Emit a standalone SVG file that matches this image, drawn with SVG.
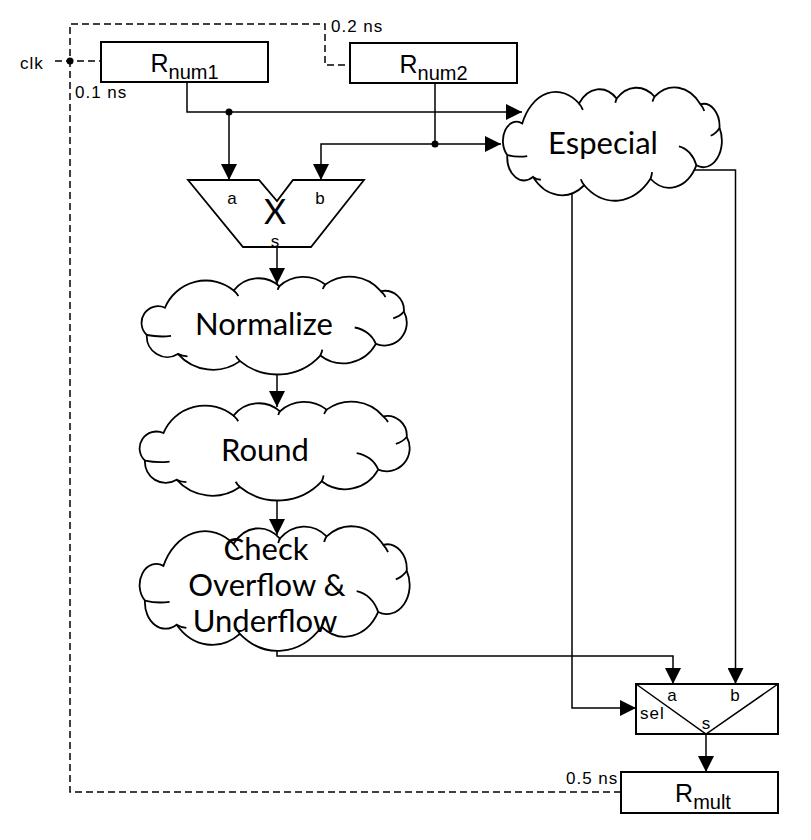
<svg xmlns="http://www.w3.org/2000/svg" width="811" height="840" viewBox="0 0 811 840">
<defs>
<style>
.ln{fill:none;stroke:#000;stroke-width:1.5}
.dash{fill:none;stroke:#000;stroke-width:1.5;stroke-dasharray:7 4}
.box{fill:#fff;stroke:#000;stroke-width:2}
.cl{fill:#fff;stroke:#000;stroke-width:1.8;vector-effect:non-scaling-stroke}
.ci{fill:none;stroke:#000;stroke-width:1.8;vector-effect:non-scaling-stroke}
.sm{font-family:"Liberation Sans",Arial,sans-serif;font-size:17px;letter-spacing:1px;fill:#000}
.lb{font-family:"Liberation Sans",Arial,sans-serif;font-size:17px;fill:#000}
.big{font-family:Lato,"Open Sans",sans-serif;font-size:31px;text-anchor:middle;fill:#000}
.reg{font-family:"Liberation Sans",Arial,sans-serif;font-size:25px;text-anchor:middle;fill:#000}
</style>
<marker id="ah" markerUnits="userSpaceOnUse" markerWidth="16" markerHeight="16" viewBox="0 0 16 16" refX="16" refY="8" orient="auto"><path d="M0,0L16,8L0,16z" fill="#000"/></marker>
<path id="cloud" class="cl" d="M9.8,31.3 A16.1,46.9 0 0 1 34.8,13.2 A11.4,33.3 0 0 1 51.4,8.7 A12.9,37.5 0 0 1 68.1,6.9 A15,43.8 0 0 1 88.3,13.9 A7,20.5 0 0 1 96.7,35.4 A8.2,24 0 0 1 86.5,69.4 A13.6,39.6 0 0 1 66.3,81.6 A21.4,62.5 0 0 1 37.1,87.5 A17.1,50 0 0 1 14.5,79.9 A7.4,21.7 0 0 1 3.2,60 A6,17.5 0 0 1 9.8,31.3 Z"/>
<path id="cloudIn" class="ci" d="M3.2,60 A20,40 0 0 0 12,61 M78.8,52.1 A10,28 0 0 1 86.5,69.4 M96.7,35.4 A8,20 0 0 1 92.8,42.5 M34.8,13.2 A8,20 0 0 1 36.5,19 M51.4,8.7 A6,15 0 0 0 50.8,12.5 M68.1,6.9 A6,15 0 0 0 67.2,11.5 M88.3,13.9 A8,20 0 0 1 90,20 M66.3,81.6 A8,20 0 0 0 67,75.5 M37.1,87.5 A8,20 0 0 1 35.6,82 M14.5,79.9 A8,20 0 0 0 18,82.5"/>
</defs>
<rect width="811" height="840" fill="#fff"/>

<g id="connectors">
<path class="dash" d="M621,792 H70 V24 H325 V65 H350"/>
<path class="dash" d="M55,61 H101"/>
<circle cx="70" cy="61" r="3.5" fill="#000"/>
<path class="ln" d="M187,82 V112 H522" marker-end="url(#ah)"/>
<path class="ln" d="M229,112 V180" marker-end="url(#ah)"/>
<circle cx="229" cy="112" r="3.5" fill="#000"/>
<path class="ln" d="M435,83 V144 H501" marker-end="url(#ah)"/>
<path class="ln" d="M435,144 H321 V180" marker-end="url(#ah)"/>
<circle cx="435" cy="144" r="3.5" fill="#000"/>
<path class="ln" d="M277,247 V284" marker-end="url(#ah)"/>
<path class="ln" d="M277,370 V407" marker-end="url(#ah)"/>
<path class="ln" d="M277,495 V535" marker-end="url(#ah)"/>
<path class="ln" d="M277,645 V656 H673 V684" marker-end="url(#ah)"/>
<path class="ln" d="M690,170 H735.5 V684" marker-end="url(#ah)"/>
<path class="ln" d="M572,188 V708 H636" marker-end="url(#ah)"/>
<path class="ln" d="M706,734 V772" marker-end="url(#ah)"/>
</g>

<g id="timing-labels">
<text class="sm" x="20" y="69">clk</text>
<text class="sm" x="75" y="98">0.1 ns</text>
<text class="sm" x="331" y="32">0.2 ns</text>
<text class="sm" x="566" y="784">0.5 ns</text>
</g>

<g id="rnum1">
<rect class="box" x="101" y="42" width="167" height="40"/>
<text class="reg" x="184.5" y="72">R<tspan font-size="20" dy="7">num1</tspan></text>
</g>

<g id="rnum2">
<rect class="box" x="350" y="43" width="167" height="40"/>
<text class="reg" x="433.5" y="73">R<tspan font-size="20" dy="7">num2</tspan></text>
</g>

<g id="especial">
<use href="#cloud" transform="translate(500,89) scale(2.27,1.1)"/>
<use href="#cloudIn" transform="translate(500,89) scale(2.27,1.1)"/>
<text class="big" x="603" y="154">Especial</text>
</g>

<g id="multiplier">
<path fill="#fff" stroke="#000" stroke-width="1.8" d="M188,180 H259 L277,201 L293,180 H364 L311,247 H243 Z"/>
<text x="275" y="224" font-family="Lato,'Open Sans',sans-serif" font-size="34" text-anchor="middle">X</text>
<text class="lb" x="232" y="204" text-anchor="middle">a</text>
<text class="lb" x="320" y="204" text-anchor="middle">b</text>
<text class="lb" x="275" y="247" text-anchor="middle">s</text>
</g>

<g id="normalize">
<use href="#cloud" transform="translate(138,278) scale(2.75,0.95)"/>
<use href="#cloudIn" transform="translate(138,278) scale(2.75,0.95)"/>
<text class="big" x="264" y="335">Normalize</text>
</g>

<g id="round">
<use href="#cloud" transform="translate(136,403) scale(2.8,0.96)"/>
<use href="#cloudIn" transform="translate(136,403) scale(2.8,0.96)"/>
<text class="big" x="265" y="461">Round</text>
</g>

<g id="check">
<use href="#cloud" transform="translate(136,528) scale(2.8,1.21)"/>
<use href="#cloudIn" transform="translate(136,528) scale(2.8,1.21)"/>
<text class="big" x="266" y="560" font-size="28">Check</text>
<text class="big" x="267" y="596" font-size="28">Overflow &amp;</text>
<text class="big" x="265" y="632" font-size="28">Underflow</text>
</g>

<g id="mux">
<rect fill="#fff" stroke="#000" stroke-width="2" x="636" y="684" width="142" height="50"/>
<path class="ln" d="M636,684 L706,734 L778,684"/>
<text class="lb" x="672" y="701" text-anchor="middle">a</text>
<text class="lb" x="735" y="701" text-anchor="middle">b</text>
<text class="lb" x="640" y="719" letter-spacing="1">sel</text>
<text class="lb" x="706" y="729" text-anchor="middle">s</text>
</g>

<g id="rmult">
<rect class="box" x="621" y="772" width="157" height="41"/>
<text class="reg" x="703" y="802">R<tspan font-size="20" dy="7">mult</tspan></text>
</g>
</svg>
